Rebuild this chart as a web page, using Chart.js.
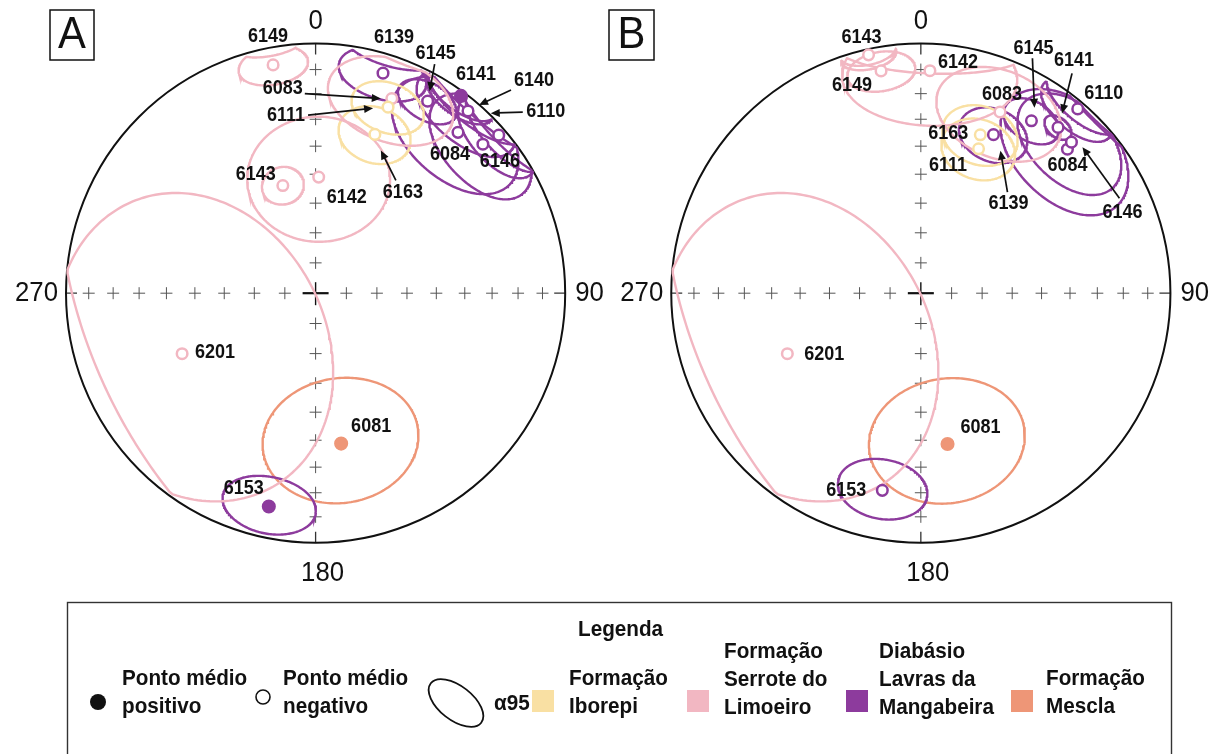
<!DOCTYPE html>
<html>
<head>
<meta charset="utf-8">
<script src="https://cdn.jsdelivr.net/npm/chart.js@4.4.1/dist/chart.umd.min.js"></script>
<style>
  html, body { margin: 0; padding: 0; background: #fff; }
  #wrap { position: relative; width: 1232px; height: 754px; overflow: hidden; background: #fff; }
  canvas.net { position: absolute; left: 0; top: 0; }
  #legendArt { position: absolute; left: 0; top: 0; }
  .lt { position: absolute; font-family: "Liberation Sans", Arial, sans-serif; font-weight: bold;
        font-size: 22px; line-height: 28px; color: #111; white-space: nowrap;
        transform-origin: 0 0; transform: scaleX(0.94); }
</style>
</head>
<body>
<div id="wrap">
  <canvas id="netA" class="net" width="1232" height="600"></canvas>
  <canvas id="netB" class="net" width="1232" height="600"></canvas>
  <svg id="legendArt" width="1232" height="754"></svg>
</div>
<script>
const DEG = Math.PI / 180;

// ---- data -------------------------------------------------------------
const sites = ['6149','6143','6142','6083','6201','6111','6163','6139',
               '6145','6141','6140','6110','6084','6146','6153','6081'];
// 0 Iborepi, 1 Serrote do Limoeiro, 2 Lavras da Mangabeira, 3 Mescla
const unitOf = [1,1,1,1,1,0,0,2,2,2,2,2,2,2,2,3];
const unitLines = [['Formação','Iborepi'], ['Formação','Serrote do','Limoeiro'],
                   ['Diabásio','Lavras da','Mangabeira'], ['Formação','Mescla']];
const unitColors = ['#F9E0A3', '#F2B7C2', '#8D3B9D', '#EE9677'];

// Panel A: mean declination, inclination (negative = upward), alpha95 (degrees)
const decA = [349.6, 343.3,   1.5,  21.1, 245.3,  21.0,  20.2,  16.8,
               29.9,  39.5,  36.0,  48.8,  41.1,  47.9, 192.2, 170.5];
const incA = [ -6.3, -52.3, -51.0, -16.3, -40.8, -20.1, -31.8,  -7.3,
              -10.9,  -4.5,   1.0,  -2.8, -14.3, -10.6,  12.3,  38.0];
const a95A = [  8.5,   6.5,  22,    17,    49,    10,    10.5,  11,
                 8,    14,     9,    12,    19,    16,    12,    23];

// Panel B
const decB = [350.0, 347.8,   2.3,  23.3, 245.3,  21.5,  20.3,  24.3,
               32.3,  39.2,  null,  40.0,  45.1,  44.5, 190.9, 170.1];
const incB = [ -9.1,  -1.0, -10.4, -20.9, -40.8, -37.0, -31.9, -30.0,
              -18.2, -14.1,  null,  -2.5, -18.2, -15.0, -19.5,  37.8];
const a95B = [  8.5,   6.5,  22,    17.5,  49,    11,    11,    10,
                 8,     4,   null,   10,    20,    16,    12,    23];

// graticule: inclination ticks along the axes, azimuth labels
const tickIncs = [80, 70, 60, 50, 40, 30, 20, 10];
const azLabels = ['0', '90', '180', '270'];

// ---- label layout (pixel offsets of label centre from its point) -------
const labelOffA = [[-5,-28],[-27,-11],[28,20],[-109,-10],[33,-1],[-102,8],[28,58],[11,-36],
                   [8,-48],[8,-36],[73,-15],[47,-24],[-8,22],[17,17],[-25,-18],[30,-17]];
// arrows: [tail dx, tail dy from label centre, tip dx, tip dy from point]
const arrowA = [null,null,null,[22,5,-11,0],null,[22,0,-15,1],[-7,-12,6,16],null,
                [-1,11,2,-10],null,[-23,9,18,9],[-23,1,-8,-22],null,null,null,null];
const labelOffB = [[-29,14.5],[-7,-17],[28,-8],[2,-17],[37,1],[-30.5,16.5],[-32,-1.5],[15,68.5],
                   [2,-72.5],[16,-66.5],null,[26,-15.5],[0,16.5],[51,70.5],[-36,0],[33,-16]];
const arrowB = [null,null,null,null,null,null,null,[-1,-11,7,16],
                [-1,10,3,-13],[-2,12.5,4,-14],null,null,null,[-3,-14.5,11,5],null,null];

// ---- equal-area projection -------------------------------------------
function dirVec(dec, inc) {            // (north, east, down)
  const d = dec * DEG, i = inc * DEG;
  return [Math.cos(i) * Math.cos(d), Math.cos(i) * Math.sin(d), Math.sin(i)];
}
function project(v) {                 // both hemispheres folded onto one net
  const h = Math.hypot(v[0], v[1]);
  const r = Math.sqrt(Math.max(0, 1 - Math.abs(v[2])));
  if (h < 1e-12) return { x: 0, y: 0 };
  return { x: r * v[1] / h, y: r * v[0] / h };
}
function cross(a, b) { return [a[1]*b[2]-a[2]*b[1], a[2]*b[0]-a[0]*b[2], a[0]*b[1]-a[1]*b[0]]; }
function norm(a) { const l = Math.hypot(a[0], a[1], a[2]); return [a[0]/l, a[1]/l, a[2]/l]; }
function coneOfConfidence(dec, inc, a95) {
  const c = dirVec(dec, inc);
  const u = norm(Math.abs(c[2]) < 0.9 ? cross(c, [0, 0, 1]) : cross(c, [1, 0, 0]));
  const w = cross(c, u);
  const ca = Math.cos(a95 * DEG), sa = Math.sin(a95 * DEG);
  const pts = [];
  for (let k = 0; k <= 240; k++) {
    const p = 2 * Math.PI * k / 240, cp = Math.cos(p), sp = Math.sin(p);
    pts.push(project([c[0]*ca + (u[0]*cp + w[0]*sp)*sa,
                      c[1]*ca + (u[1]*cp + w[1]*sp)*sa,
                      c[2]*ca + (u[2]*cp + w[2]*sp)*sa]));
  }
  return pts;
}

// ---- drawing helpers --------------------------------------------------
function txt(ctx, s, x, y, font, align, sx) {
  ctx.save();
  ctx.translate(x, y); ctx.scale(sx, 1);
  ctx.font = font; ctx.textAlign = align; ctx.textBaseline = 'middle';
  ctx.fillText(s, 0, 0);
  ctx.restore();
}
function arrow(ctx, x1, y1, x2, y2) {
  const a = Math.atan2(y2 - y1, x2 - x1), L = 9, Wd = 4;
  ctx.beginPath(); ctx.moveTo(x1, y1); ctx.lineTo(x2 - L * 0.7 * Math.cos(a), y2 - L * 0.7 * Math.sin(a)); ctx.stroke();
  ctx.beginPath();
  ctx.moveTo(x2, y2);
  ctx.lineTo(x2 - L * Math.cos(a) + Wd * Math.sin(a), y2 - L * Math.sin(a) - Wd * Math.cos(a));
  ctx.lineTo(x2 - L * Math.cos(a) - Wd * Math.sin(a), y2 - L * Math.sin(a) + Wd * Math.cos(a));
  ctx.closePath(); ctx.fill();
}

function buildPanel(canvasId, cx, cy, letter, box, dec, inc, a95, labOff, arrows) {
  const R = 253, W = 1232, H = 600;
  const datasets = [];
  sites.forEach((s, i) => {
    if (dec[i] === null) return;
    datasets.push({
      label: s + ' α95', data: coneOfConfidence(dec[i], inc[i], a95[i]),
      showLine: true, borderColor: unitColors[unitOf[i]], borderWidth: 2.4,
      pointRadius: 0, fill: false, tension: 0, order: 2
    });
  });
  unitColors.forEach((col, u) => {
    [true, false].forEach(down => {
      const pts = [];
      sites.forEach((s, i) => {
        if (dec[i] === null || unitOf[i] !== u || (inc[i] > 0) !== down) return;
        pts.push(project(dirVec(dec[i], inc[i])));
      });
      if (!pts.length) return;
      datasets.push({
        label: 'unit' + u + (down ? '+' : '-'), data: pts, showLine: false,
        pointStyle: 'circle', pointRadius: down ? 5.8 : 5.3, pointBorderWidth: 2.5,
        pointBackgroundColor: down ? col : '#ffffff', pointBorderColor: col, order: 0
      });
    });
  });

  const netPlugin = {
    id: 'net' + letter,
    beforeDatasetsDraw(chart) {
      const ctx = chart.ctx, xs = chart.scales.x, ys = chart.scales.y;
      const ox = xs.getPixelForValue(0), oy = ys.getPixelForValue(0);
      const rp = xs.getPixelForValue(1) - ox;
      ctx.save();
      ctx.strokeStyle = '#555'; ctx.lineWidth = 1;
      tickIncs.forEach(I => {
        const r = Math.sqrt(1 - Math.sin(I * DEG));
        [[0, 1], [1, 0], [0, -1], [-1, 0]].forEach(([dx, dy]) => {
          const x = xs.getPixelForValue(dx * r), y = ys.getPixelForValue(dy * r);
          ctx.beginPath();
          ctx.moveTo(x - 6, y); ctx.lineTo(x + 6, y);
          ctx.moveTo(x, y - 6); ctx.lineTo(x, y + 6);
          ctx.stroke();
        });
      });
      // short radial ticks at the four cardinal points
      ctx.strokeStyle = '#333'; ctx.lineWidth = 1.3;
      ctx.beginPath();
      ctx.moveTo(ox, oy - rp); ctx.lineTo(ox, oy - rp + 11);
      ctx.moveTo(ox, oy + rp); ctx.lineTo(ox, oy + rp - 11);
      ctx.moveTo(ox - rp, oy); ctx.lineTo(ox - rp + 11, oy);
      ctx.moveTo(ox + rp, oy); ctx.lineTo(ox + rp - 11, oy);
      ctx.stroke();
      // centre mark
      ctx.strokeStyle = '#111'; ctx.lineWidth = 2.2;
      ctx.beginPath(); ctx.moveTo(ox - 13, oy); ctx.lineTo(ox + 13, oy); ctx.stroke();
      ctx.lineWidth = 1.4;
      ctx.beginPath(); ctx.moveTo(ox, oy - 11); ctx.lineTo(ox, oy + 12); ctx.stroke();
      // primitive circle
      ctx.strokeStyle = '#111'; ctx.lineWidth = 2;
      ctx.beginPath(); ctx.arc(ox, oy, rp, 0, 2 * Math.PI); ctx.stroke();
      // azimuth labels
      ctx.fillStyle = '#111';
      const f = '28px "Liberation Sans", Arial, sans-serif';
      txt(ctx, azLabels[0], ox, oy - rp - 22, f, 'center', 0.92);
      txt(ctx, azLabels[1], ox + rp + 10, oy, f, 'left', 0.92);
      txt(ctx, azLabels[2], ox + 7, oy + rp + 30, f, 'center', 0.92);
      txt(ctx, azLabels[3], ox - rp - 8, oy, f, 'right', 0.92);
      // panel letter
      ctx.lineWidth = 1.5;
      ctx.strokeRect(box[0], box[1], box[2], box[3]);
      txt(ctx, letter, box[0] + box[2] / 2, box[1] + box[3] / 2 + 1, '44px "Liberation Sans", Arial, sans-serif', 'center', 0.95);
      ctx.restore();
    },
    afterDatasetsDraw(chart) {
      const ctx = chart.ctx, xs = chart.scales.x, ys = chart.scales.y;
      ctx.save();
      ctx.fillStyle = '#111'; ctx.strokeStyle = '#111'; ctx.lineWidth = 1.7;
      sites.forEach((s, i) => {
        if (dec[i] === null) return;
        const p = project(dirVec(dec[i], inc[i]));
        const px = xs.getPixelForValue(p.x), py = ys.getPixelForValue(p.y);
        const lx = px + labOff[i][0], ly = py + labOff[i][1];
        txt(ctx, s, lx, ly, 'bold 20px "Liberation Sans", Arial, sans-serif', 'center', 0.9);
        const a = arrows[i];
        if (a) arrow(ctx, lx + a[0], ly + a[1], px + a[2], py + a[3]);
      });
      ctx.restore();
    }
  };

  return new Chart(document.getElementById(canvasId), {
    type: 'scatter',
    data: { datasets },
    options: {
      responsive: false, animation: false, events: [], devicePixelRatio: 1,
      layout: { padding: 0 },
      scales: {
        x: { type: 'linear', display: false, min: -cx / R, max: (W - cx) / R },
        y: { type: 'linear', display: false, min: -(H - cy) / R, max: cy / R }
      },
      plugins: { legend: { display: false }, tooltip: { enabled: false } }
    },
    plugins: [netPlugin]
  });
}

buildPanel('netA', 311.5, 293, 'A', [50, 10, 44, 50], decA, incA, a95A, labelOffA, arrowA);
buildPanel('netB', 925, 293, 'B', [609, 10, 45, 50], decB, incB, a95B, labelOffB, arrowB);

// ---- legend -------------------------------------------------------------
(function () {
  const svg = document.getElementById('legendArt');
  const wrap = document.getElementById('wrap');
  const NS = 'http://www.w3.org/2000/svg';
  function el(tag, attrs) {
    const e = document.createElementNS(NS, tag);
    for (const k in attrs) e.setAttribute(k, attrs[k]);
    svg.appendChild(e); return e;
  }
  function label(lines, left, top) {
    const d = document.createElement('div');
    d.className = 'lt'; d.style.left = left + 'px'; d.style.top = top + 'px';
    d.innerHTML = lines.join('<br>');
    wrap.appendChild(d);
  }
  el('rect', { x: 67.5, y: 602.5, width: 1104, height: 170, fill: 'none', stroke: '#333', 'stroke-width': 1.4 });
  label(['Legenda'], 578, 615);
  el('circle', { cx: 98, cy: 702, r: 8, fill: '#111' });
  label(['Ponto médio', 'positivo'], 122, 664);
  el('circle', { cx: 263, cy: 697, r: 7, fill: '#fff', stroke: '#111', 'stroke-width': 1.6 });
  label(['Ponto médio', 'negativo'], 283, 664);
  el('ellipse', { cx: 456, cy: 703, rx: 32, ry: 17, fill: 'none', stroke: '#111', 'stroke-width': 1.8,
                  transform: 'rotate(38 456 703)' });
  label(['α95'], 494, 689);
  const sqX = [532, 687, 846, 1011];
  const txX = [569, 724, 879, 1046];
  unitColors.forEach((c, u) => {
    el('rect', { x: sqX[u], y: 690, width: 22, height: 22, fill: c });
    const n = unitLines[u].length;
    label(unitLines[u], txX[u], n === 3 ? 637 : 664);
  });
})();
</script>
</body>
</html>
